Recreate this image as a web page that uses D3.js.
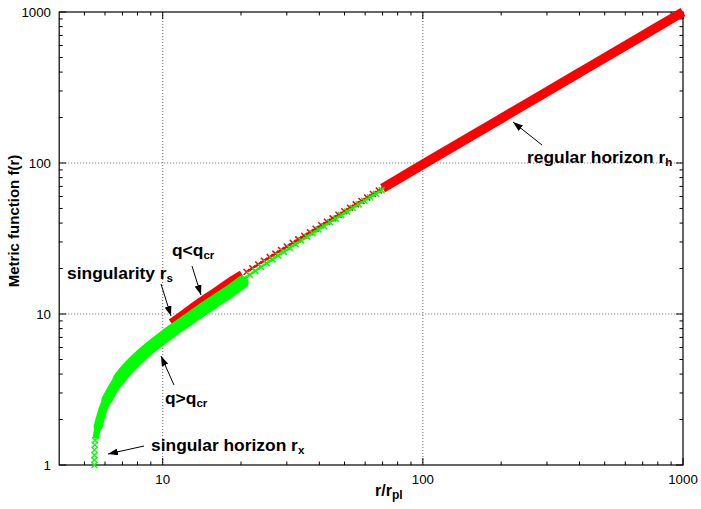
<!DOCTYPE html>
<html><head><meta charset="utf-8">
<script src="https://cdn.jsdelivr.net/npm/d3@7"></script>
<style>
body{margin:0;background:#fff}
text{font-family:"Liberation Sans",Arial,Helvetica,sans-serif;fill:#000}
</style>
</head><body>
<svg id="chart" width="701" height="509"></svg>
<script>
// ---------------- data ----------------
const xDomain = [4, 1000];
const yDomain = [1, 1000];
const xTickLabels = [10, 100, 1000];
const yTickLabels = [1, 10, 100, 1000];
const gridX = [10, 100];
const gridY = [10, 100];

// red curve (q < q_cr): dense part near singularity
const redR1 = [10.8, 12, 14, 16, 18, 20.2];
const redF1 = [8.7, 9.9, 12, 14, 16.1, 18.2];
// red curve: dense part towards regular horizon
const redR2 = [70, 100, 200, 400, 700, 1000];
const redF2 = [68, 98, 197, 397, 698, 1000];
// red curve: sparse sampled points
const redSparseR = [21, 22.1, 23.3, 24.5, 25.8, 27.1, 28.5, 30, 31.6, 33.2, 35, 36.8, 38.7, 40.7, 42.8, 45, 47.4, 49.9, 52.5, 55.2, 58.1, 61.1, 64.3, 67.7];
const redSparseF = [19, 20.1, 21.3, 22.5, 23.8, 25.1, 26.5, 28, 29.6, 31.2, 33, 34.8, 36.7, 38.7, 40.8, 43, 45.4, 47.9, 50.5, 53.2, 56.1, 59.1, 62.3, 65.7];

// green curve (q > q_cr): dense band
const greenR = [5.54, 5.57, 5.65, 5.74, 5.9, 6.1, 6.44, 6.8, 7.16, 8, 8.86, 10, 11, 12.5, 14, 16, 18, 20.2];
const greenF = [1.5, 1.63, 1.8, 2.0, 2.35, 2.7, 3.2, 3.7, 4.15, 5.05, 5.9, 6.95, 7.85, 9.15, 10.5, 12.25, 14.0, 16.2];
// green curve: isolated points at the singular horizon
const greenPtR = [5.46, 5.46, 5.465, 5.47, 5.48, 5.49];
const greenPtF = [1.0, 1.08, 1.16, 1.26, 1.36, 1.46];
// green curve: sparse sampled points
const greenSparseR = [20.5, 21.6, 22.7, 23.9, 25.1, 26.4, 27.8, 29.2, 30.8, 32.4, 34.1, 35.9, 37.7, 39.7, 41.7, 43.9, 46.2, 48.6, 51.2, 53.8, 56.6, 59.6, 62.7, 66, 69.4];
const greenSparseF = [17.1, 18.2, 19.3, 20.5, 21.7, 23, 24.4, 25.8, 27.4, 29, 30.7, 32.5, 34.3, 36.3, 38.3, 40.5, 42.8, 45.2, 47.8, 50.4, 53.2, 56.2, 59.3, 62.6, 66];

// ---------------- layout ----------------
const L = 59.2, R = 683, T = 12, B = 465;
const RED = "#ff0000", GREEN = "#00ff00";

const svg = d3.select("#chart");
const x = d3.scaleLog().domain(xDomain).range([L, R]);
const y = d3.scaleLog().domain(yDomain).range([B, T]);

const defs = svg.append("defs");
defs.append("marker").attr("id", "ah")
  .attr("markerUnits", "userSpaceOnUse")
  .attr("viewBox", "0 0 10 7").attr("markerWidth", 10).attr("markerHeight", 7)
  .attr("refX", 10).attr("refY", 3.5).attr("orient", "auto")
  .append("path").attr("d", "M0,0 L10,3.5 L0,7 z").attr("fill", "#000");

// grid
const g = svg.append("g");
g.selectAll(".gx").data(gridX).enter().append("line")
  .attr("x1", d => x(d)).attr("x2", d => x(d)).attr("y1", T).attr("y2", B)
  .attr("stroke", "#666").attr("stroke-width", 1).attr("stroke-dasharray", "1,2");
g.selectAll(".gy").data(gridY).enter().append("line")
  .attr("y1", d => y(d)).attr("y2", d => y(d)).attr("x1", L).attr("x2", R)
  .attr("stroke", "#666").attr("stroke-width", 1).attr("stroke-dasharray", "1,2");

// ticks (inward, mirrored)
const xMinor = x.ticks().filter(d => !xTickLabels.includes(d) && d > xDomain[0] && d < xDomain[1]);
const yMinor = y.ticks().filter(d => !yTickLabels.includes(d));
const tk = svg.append("g").attr("stroke", "#000").attr("stroke-width", 1);
xMinor.forEach(d => {
  tk.append("line").attr("x1", x(d)).attr("x2", x(d)).attr("y1", B).attr("y2", B - 3.5);
  tk.append("line").attr("x1", x(d)).attr("x2", x(d)).attr("y1", T).attr("y2", T + 3.5);
});
xTickLabels.forEach(d => {
  tk.append("line").attr("x1", x(d)).attr("x2", x(d)).attr("y1", B).attr("y2", B - 7);
  tk.append("line").attr("x1", x(d)).attr("x2", x(d)).attr("y1", T).attr("y2", T + 7);
});
yMinor.forEach(d => {
  tk.append("line").attr("y1", y(d)).attr("y2", y(d)).attr("x1", L).attr("x2", L + 3.5);
  tk.append("line").attr("y1", y(d)).attr("y2", y(d)).attr("x1", R).attr("x2", R - 3.5);
});
yTickLabels.forEach(d => {
  tk.append("line").attr("y1", y(d)).attr("y2", y(d)).attr("x1", L).attr("x2", L + 7);
  tk.append("line").attr("y1", y(d)).attr("y2", y(d)).attr("x1", R).attr("x2", R - 7);
});

// tick labels
svg.append("g").selectAll("text").data(xTickLabels).enter().append("text")
  .attr("x", d => x(d)).attr("y", 484).attr("text-anchor", "middle")
  .attr("font-size", 13.3).text(d => d);
svg.append("g").selectAll("text").data(yTickLabels).enter().append("text")
  .attr("x", 51).attr("y", d => y(d) + 4.7).attr("text-anchor", "end")
  .attr("font-size", 13.3).text(d => d);

// frame
svg.append("rect").attr("x", L).attr("y", T).attr("width", R - L).attr("height", B - T)
  .attr("fill", "none").attr("stroke", "#000").attr("stroke-width", 1.2);

// helpers
const line = d3.line().x(d => x(d[0])).y(d => y(d[1]));
const smooth = d3.line().x(d => x(d[0])).y(d => y(d[1])).curve(d3.curveCatmullRom.alpha(0.5));
const zip = (a, b) => a.map((v, i) => [v, b[i]]);
function cross(sel, pts, color, s, sw) {
  sel.selectAll(null).data(pts).enter().append("path")
    .attr("d", d => {
      const px = x(d[0]), py = y(d[1]);
      return `M${px - s},${py - s}L${px + s},${py + s}M${px - s},${py + s}L${px + s},${py - s}`;
    })
    .attr("stroke", color).attr("stroke-width", sw).attr("fill", "none");
}

const plot = svg.append("g");
// red dense parts
plot.append("path").datum(zip(redR1, redF1)).attr("d", smooth)
  .attr("fill", "none").attr("stroke", RED).attr("stroke-width", 9);
plot.append("path").datum(zip(redR2, redF2)).attr("d", smooth)
  .attr("fill", "none").attr("stroke", RED).attr("stroke-width", 9.5);
// red sparse
const redSp = zip(redSparseR, redSparseF);
plot.append("path").datum(redSp).attr("d", line)
  .attr("fill", "none").attr("stroke", RED).attr("stroke-width", 2);
cross(plot, redSp, RED, 3, 1.5);

// green sparse
const greenSp = zip(greenSparseR, greenSparseF);
plot.append("path").datum(greenSp).attr("d", line)
  .attr("fill", "none").attr("stroke", GREEN).attr("stroke-width", 2);
cross(plot, greenSp, GREEN, 3, 1.5);

// green dense band: thickness grows along the curve (several overlapping passes)
const gp = zip(greenR, greenF);
[[0, 6.5], [1.8, 9], [2.6, 11], [3.6, 13]].forEach(([fmin, w]) => {
  plot.append("path").datum(gp.filter(d => d[1] >= fmin)).attr("d", smooth)
    .attr("fill", "none").attr("stroke", GREEN).attr("stroke-width", w)
    .attr("stroke-linecap", fmin === 0 ? "butt" : "round").attr("stroke-linejoin", "round");
});
cross(plot, zip(greenPtR, greenPtF), GREEN, 3, 1.3);

// annotations
const ann = svg.append("g");
function label(xp, yp, main, sub, size, subSize) {
  const t = ann.append("text").attr("x", xp).attr("y", yp)
    .attr("font-size", size).attr("font-weight", "bold");
  t.append("tspan").text(main);
  t.append("tspan").attr("font-size", subSize).attr("dy", 3).text(sub);
  return t;
}
function arrow(x1, y1, x2, y2) {
  ann.append("line").attr("x1", x1).attr("y1", y1).attr("x2", x2).attr("y2", y2)
    .attr("stroke", "#000").attr("stroke-width", 1).attr("marker-end", "url(#ah)");
}
label(527, 162.5, "regular horizon r", "h", 17.4, 11.5);
arrow(542, 145, 513, 122);
label(67, 279, "singularity r", "s", 17.4, 11.5);
arrow(161, 284, 171, 316);
label(172, 256, "q<q", "cr", 17.4, 11.5);
arrow(192, 266, 201, 295);
label(165, 404, "q>q", "cr", 17.4, 11.5);
arrow(174, 385, 161, 356);
label(151, 451, "singular horizon r", "x", 17.4, 11.5);
arrow(144, 446, 108, 454);

// axis titles
label(375, 496, "r/r", "pl", 16, 12);
svg.append("text").attr("transform", "translate(19,221) rotate(-90)")
  .attr("text-anchor", "middle").attr("font-size", 15).attr("font-weight", "bold")
  .text("Metric function f(r)");
</script>
</body></html>
